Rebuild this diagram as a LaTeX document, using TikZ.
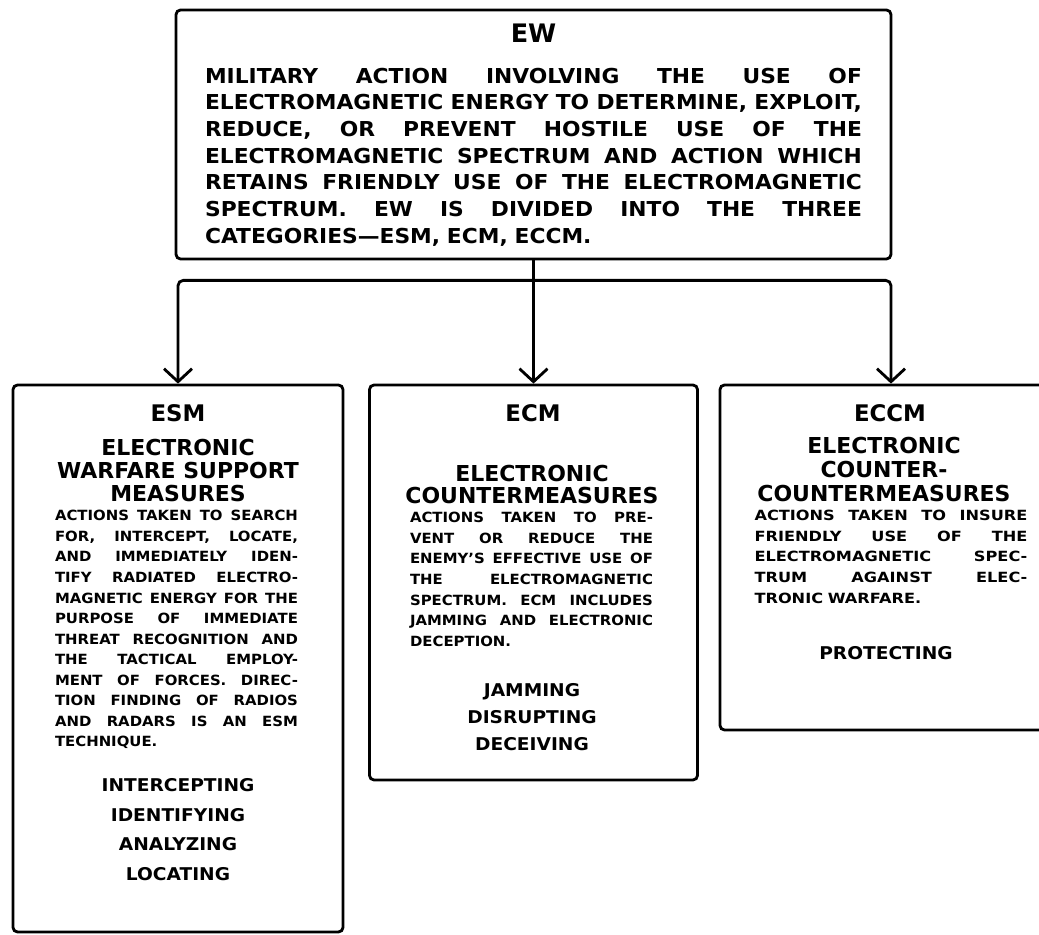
\documentclass[tikz,border=0pt]{standalone}
\usepackage{fontspec}
\setmainfont{DejaVu Sans}
\newfontfamily\widefont{DejaVu Sans}[FakeStretch=1.06,Ligatures=TeX]
\newfontfamily\widerfont{DejaVu Sans}[FakeStretch=1.15,Ligatures=TeX]
\usetikzlibrary{arrows.meta,positioning}

\newcommand{\jl}[1]{\makebox[\linewidth][s]{\spaceskip=0.3em plus 1fil\relax#1}}

\begin{document}
\begin{tikzpicture}[x=0.02cm,y=-0.02cm]
    \tikzset{box/.style={draw,line width=1.6pt,rounded corners=2.5pt,inner sep=0pt},
      head/.style={inner sep=0pt,font=\bfseries\fontsize{13}{13}\selectfont},
      sub/.style={inner sep=0pt,anchor=north,align=center,font=\bfseries\fontsize{12.5}{13.1}\selectfont},
      body/.style={inner sep=0pt,anchor=north,align=left,text width=4.86cm,font=\widefont\bfseries\fontsize{8}{11.7}\selectfont},
      list/.style={inner sep=0pt,anchor=north,align=center,font=\widefont\bfseries\fontsize{10}{16.7}\selectfont},
      conn/.style={line width=1.6pt,rounded corners=3pt},
      tip/.style={conn,-{Straight Barb[length=0.26cm,width=0.56cm]}}}
    \useasboundingbox (0,0) rectangle (1039,935);
    \clip (0,0) rectangle (1039,935);

    % EW
    \node[box,minimum width=14.3cm,minimum height=4.98cm] (ew) at (533.5,134.5) {};
    \node[head,font=\bfseries\fontsize{14.5}{14.5}\selectfont] (ewhead) at (533.5,33) {EW};
    \node[body,text width=13.14cm,font=\widefont\bfseries\fontsize{11.7}{15.2}\selectfont] (ewtext) at (533.5,67.5)
      {\jl{MILITARY ACTION INVOLVING THE USE OF}\\
       \jl{ELECTROMAGNETIC ENERGY TO DETERMINE, EXPLOIT,}\\
       \jl{REDUCE, OR PREVENT HOSTILE USE OF THE}\\
       \jl{ELECTROMAGNETIC SPECTRUM AND ACTION WHICH}\\
       \jl{RETAINS FRIENDLY USE OF THE ELECTROMAGNETIC}\\
       \jl{SPECTRUM. EW IS DIVIDED INTO THE THREE}\\
       CATEGORIES---ESM, ECM, ECCM.};

    % ESM
    \node[box,minimum width=6.6cm,minimum height=10.94cm] (esm) at (178,658.5) {};
    \node[head] (esmhead) at (178,413) {ESM};
    \node[sub] (esmsub) at (178,439) {ELECTRONIC\\WARFARE SUPPORT\\MEASURES};
    \node[body] (esmtext) at (176.5,510)
      {\jl{ACTIONS TAKEN TO SEARCH}\\
       \jl{FOR, INTERCEPT, LOCATE,}\\
       \jl{AND IMMEDIATELY IDEN-}\\
       \jl{TIFY RADIATED ELECTRO-}\\
       \jl{MAGNETIC ENERGY FOR THE}\\
       \jl{PURPOSE OF IMMEDIATE}\\
       \jl{THREAT RECOGNITION AND}\\
       \jl{THE TACTICAL EMPLOY-}\\
       \jl{MENT OF FORCES. DIREC-}\\
       \jl{TION FINDING OF RADIOS}\\
       \jl{AND RADARS IS AN ESM}\\
       TECHNIQUE.};
    \node[list] (esmlist) at (178,778.6) {INTERCEPTING\\IDENTIFYING\\ANALYZING\\LOCATING};

    % ECM
    \node[box,minimum width=6.56cm,minimum height=7.9cm] (ecm) at (533.5,582.5) {};
    \node[head] (ecmhead) at (533,413) {ECM};
    \node[sub,font=\bfseries\fontsize{12.5}{12.5}\selectfont] (ecmsub) at (532,465) {ELECTRONIC\\COUNTERMEASURES};
    \node[body] (ecmtext) at (531.5,512)
      {\jl{ACTIONS TAKEN TO PRE-}\\
       \jl{VENT OR REDUCE THE}\\
       \jl{ENEMY'S EFFECTIVE USE OF}\\
       \jl{THE ELECTROMAGNETIC}\\
       \jl{SPECTRUM. ECM INCLUDES}\\
       \jl{JAMMING AND ELECTRONIC}\\
       DECEPTION.};
    \node[list,font=\widefont\bfseries\fontsize{10}{15.1}\selectfont] (ecmlist) at (532,683.6) {JAMMING\\DISRUPTING\\DECEIVING};

    % ECCM
    \node[box,minimum width=6.84cm,minimum height=6.9cm] (eccm) at (891,557.5) {};
    \node[head] (eccmhead) at (890,413) {ECCM};
    \node[sub,font=\bfseries\fontsize{12.5}{13.7}\selectfont] (eccmsub) at (884,437) {ELECTRONIC\\COUNTER-\\COUNTERMEASURES};
    \node[body,text width=5.46cm,font=\widerfont\bfseries\fontsize{8}{11.7}\selectfont] (eccmtext) at (891,510)
      {\jl{ACTIONS TAKEN TO INSURE}\\
       \jl{FRIENDLY USE OF THE}\\
       \jl{ELECTROMAGNETIC SPEC-}\\
       \jl{TRUM AGAINST ELEC-}\\
       TRONIC WARFARE.};
    \node[list] (eccmlist) at (886,646.6) {PROTECTING};

    % connectors
    \coordinate[below=0.4cm of ew.south] (split);
    \draw[conn] (ew.south) -- (split);
    \draw[tip] (split) -| (esm.north);
    \draw[tip] (split) -- (ecm.north);
    \draw[tip] (split) -| (eccm.north);
  \end{tikzpicture}
\end{document}
